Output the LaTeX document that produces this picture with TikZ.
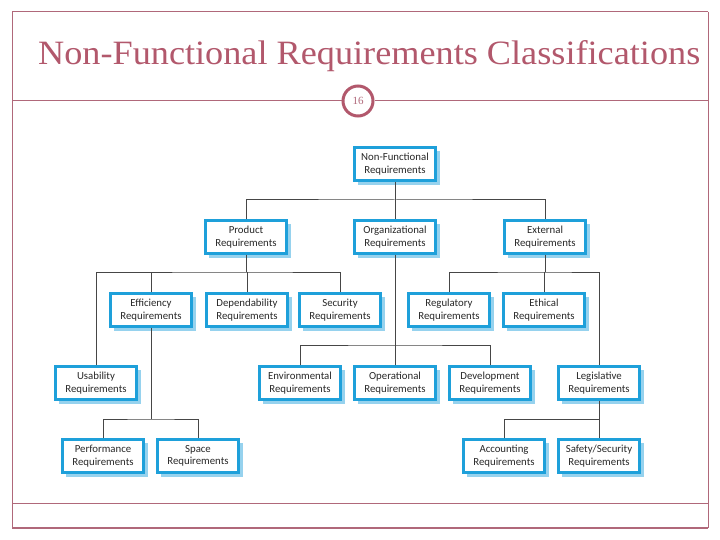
\documentclass[tikz,border=0pt]{standalone}
\usepackage{fontspec}
\setmainfont{Liberation Serif}
\newfontfamily\boxfont{Carlito}
\definecolor{rose}{RGB}{176,104,122}
\definecolor{rosedark}{RGB}{178,88,108}
\definecolor{boxblue}{RGB}{30,160,218}
\definecolor{shadowblue}{RGB}{150,210,238}
\definecolor{linegray}{RGB}{70,70,70}
\definecolor{txtgray}{RGB}{40,40,40}
\begin{document}
\begin{tikzpicture}[x=1pt,y=-1pt,
  req/.style={draw=boxblue,line width=2.2pt,fill=white,minimum width=81pt,minimum height=33pt,
    inner sep=1pt,align=center,font=\boxfont\fontsize{10.8}{12.5}\selectfont,text=txtgray},
  conn/.style={draw=linegray,line width=1pt},
  frame/.style={draw=rose,line width=1pt}]
\useasboundingbox (0,0) rectangle (720,540);
\fill[white] (0,0) rectangle (720,540);
% frame
\draw[frame] (12,12) -- (708,12);
\draw[frame] (12,12) -- (12,528);
\draw[frame] (708,12) -- (708,528);
\draw[frame,line width=2pt] (12,528) -- (708,528);
\draw[frame] (12,503) -- (708,503);
\node[circle,draw=rosedark,line width=3pt,fill=white,minimum size=30pt,inner sep=0pt,
  font=\fontsize{11}{12}\selectfont,text=rose] (pg) at (358,101) {16};
\draw[frame] (12,101) -- (pg.west);
\draw[frame] (pg.east) -- (708,101);
\node[anchor=base west,text=rosedark,inner sep=0pt,font=\fontsize{30}{34}\selectfont] (title) at (38,65)
  {\resizebox{662pt}{24pt}{Non-Functional Requirements Classifications}};
\newcommand{\rbox}[4]{%
  \fill[shadowblue] (#2+4-41,#3+4-17) rectangle (#2+4+41,#3+4+17);
  \node[req] (#1) at (#2,#3) {#4};}
\rbox{nf}{395}{164}{Non-Functional\\Requirements}
\rbox{prod}{246}{237}{Product\\Requirements}
\rbox{org}{395}{237}{Organizational\\Requirements}
\rbox{ext}{545}{237}{External\\Requirements}
\rbox{eff}{151}{310}{Efficiency\\Requirements}
\rbox{dep}{247}{310}{Dependability\\Requirements}
\rbox{sec}{340}{310}{Security\\Requirements}
\rbox{reg}{449}{310}{Regulatory\\Requirements}
\rbox{eth}{544}{310}{Ethical\\Requirements}
\rbox{usa}{96}{383}{Usability\\Requirements}
\rbox{env}{300}{383}{Environmental\\Requirements}
\rbox{ope}{395}{383}{Operational\\Requirements}
\rbox{dev}{490}{383}{Development\\Requirements}
\rbox{leg}{599}{383}{Legislative\\Requirements}
\rbox{per}{103}{456}{Performance\\Requirements}
\rbox{spa}{198}{456}{Space\\Requirements}
\rbox{acc}{504}{456}{Accounting\\Requirements}
\rbox{saf}{599}{456}{Safety/Security\\Requirements}
% connectors
\draw[conn] (nf.south) -- (nf.south |- 0,200) coordinate (j1);
\draw[conn] (prod.north) |- (j1) -| (ext.north);
\draw[conn] (j1) -- (org.north);
\draw[conn] (prod.south) -- (prod.south |- 0,272) coordinate (j2);
\draw[conn] (usa.north) |- (j2) -| (sec.north);
\draw[conn] (eff.north) -- (eff.north |- j2);
\draw[conn] (dep.north) -- (dep.north |- j2);
\draw[conn] (ext.south) -- (ext.south |- 0,272) coordinate (j3);
\draw[conn] (reg.north) |- (j3) -| (leg.north);
\draw[conn] (eth.north) -- (eth.north |- j3);
\draw[conn] (org.south) -- (org.south |- 0,345) coordinate (j4);
\draw[conn] (env.north) |- (j4) -| (dev.north);
\draw[conn] (ope.north) -- (ope.north |- j4);
\draw[conn] (eff.south) -- (eff.south |- 0,419) coordinate (j5);
\draw[conn] (per.north) |- (j5) -| (spa.north);
\draw[conn] (leg.south) -- (leg.south |- 0,419) coordinate (j6);
\draw[conn] (acc.north) |- (j6) -| (saf.north);
\end{tikzpicture}
\end{document}
